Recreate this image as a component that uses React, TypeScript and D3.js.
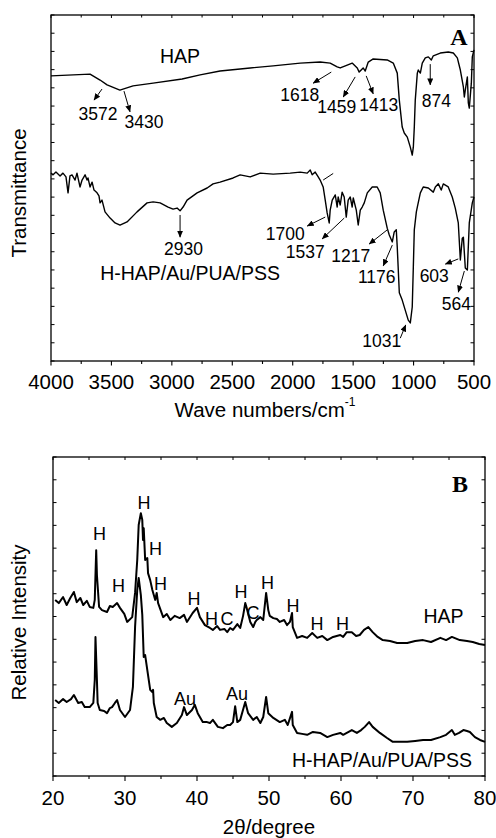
import React from 'react';
import * as d3 from 'd3';

// ---------- FTIR (panel A) : [wavenumber cm-1, transmittance a.u.] ----------
const ftirHAP: [number, number][] = [
  [4000, 82.4], [3677, 82.9], [3594, 81.2], [3536, 79.8], [3430, 78.3], [3321, 79.5],
  [3155, 80.3], [2915, 81.5], [2766, 82.7], [2601, 83.8], [2435, 84.4], [2352, 84.7],
  [2162, 85.3], [1938, 86.1], [1773, 86.4], [1690, 86.1], [1632, 85.0], [1607, 84.7],
  [1549, 85.5], [1508, 86.1], [1466, 84.7], [1450, 83.5], [1417, 84.7], [1400, 83.8],
  [1375, 86.4], [1334, 87.3], [1218, 87.0], [1168, 86.1], [1135, 83.2], [1118, 75.4],
  [1094, 67.6], [1077, 65.9], [1052, 64.7], [1027, 61.8], [1011, 59.5], [1002, 61.8],
  [994, 67.6], [986, 75.4], [969, 83.2], [961, 84.1], [944, 83.2], [928, 86.1],
  [903, 87.6], [878, 87.9], [853, 87.0], [837, 88.2], [779, 89.0], [713, 89.3],
  [671, 89.0], [638, 87.6], [613, 84.1], [588, 79.2], [580, 76.3], [572, 78.3],
  [555, 82.1], [547, 74.6], [539, 73.1], [522, 80.3], [514, 87.9], [500, 89.9],
];

const ftirComposite: [number, number][] = [
  [4000, 54.3], [3983, 53.8], [3959, 54.6], [3925, 53.5], [3901, 54.3], [3876, 53.2],
  [3859, 48.6], [3843, 53.5], [3826, 53.8], [3801, 52.3], [3785, 54.3], [3760, 50.3],
  [3743, 52.3], [3718, 53.8], [3702, 52.3], [3694, 52.9], [3677, 50.3], [3660, 51.7],
  [3644, 49.4], [3619, 48.6], [3603, 47.7], [3594, 45.7], [3578, 46.5], [3553, 43.1],
  [3511, 41.3], [3470, 39.9], [3429, 39.3], [3371, 40.2], [3288, 43.1], [3205, 45.7],
  [3155, 46.0], [3097, 45.7], [3031, 44.5], [2990, 43.9], [2957, 44.2], [2932, 43.4],
  [2907, 44.5], [2874, 46.5], [2791, 48.6], [2708, 50.0], [2659, 51.2], [2601, 51.7],
  [2493, 52.9], [2435, 53.8], [2352, 53.2], [2269, 54.3], [2162, 54.0], [2021, 54.3],
  [1938, 54.6], [1880, 54.3], [1855, 55.2], [1839, 53.8], [1814, 54.6], [1789, 53.2],
  [1773, 52.3], [1748, 50.3], [1731, 46.5], [1715, 42.8], [1698, 39.9], [1690, 43.6],
  [1673, 46.5], [1648, 48.0], [1632, 44.5], [1624, 47.4], [1607, 45.1], [1591, 48.8],
  [1574, 47.4], [1557, 41.6], [1541, 46.5], [1524, 47.4], [1508, 44.5], [1499, 47.1],
  [1474, 43.6], [1458, 39.3], [1441, 43.6], [1425, 44.5], [1408, 45.7], [1383, 48.6],
  [1342, 50.3], [1301, 50.3], [1276, 48.6], [1251, 43.6], [1218, 38.4], [1201, 36.4],
  [1176, 34.4], [1160, 37.3], [1143, 37.9], [1135, 32.9], [1118, 19.7], [1094, 17.6],
  [1069, 14.7], [1044, 11.8], [1027, 11.0], [1011, 15.6], [1002, 27.2], [994, 37.9],
  [977, 43.1], [969, 44.5], [944, 48.6], [920, 50.3], [878, 50.0], [837, 48.8],
  [820, 50.3], [795, 51.2], [771, 49.4], [754, 51.2], [713, 50.3], [680, 47.4],
  [655, 44.2], [630, 39.9], [613, 29.2], [597, 35.5], [588, 35.8], [572, 26.9],
  [555, 26.3], [539, 39.9], [514, 45.7], [500, 47.4],
];

// ---------- XRD (panel B) : [2theta, relative intensity] ----------
const xrdHAP: [number, number][] = [
  [20.3, 55.2], [20.8, 54.2], [21.4, 56.1], [21.9, 53.6], [22.4, 55.8], [22.9, 57.7],
  [23.3, 54.5], [23.8, 55.8], [24.2, 53.6], [24.7, 54.9], [25.1, 53.0], [25.6, 52.7],
  [25.8, 55.2], [26.0, 70.8], [26.1, 63.0], [26.4, 53.0], [26.8, 52.0], [27.5, 51.4],
  [27.9, 53.3], [28.3, 53.0], [28.9, 54.2], [29.3, 52.7], [29.9, 50.8], [30.3, 48.3],
  [31.0, 49.8], [31.4, 57.4], [31.7, 67.7], [31.9, 78.7], [32.2, 82.4], [32.4, 80.3],
  [32.5, 74.0], [32.6, 77.7], [32.8, 67.7], [33.1, 68.3], [33.2, 63.6], [33.5, 61.4],
  [33.8, 58.3], [34.2, 55.2], [34.4, 57.4], [34.6, 54.2], [35.3, 49.8], [35.8, 50.8],
  [36.3, 48.9], [36.9, 50.2], [37.6, 49.5], [38.2, 50.5], [38.6, 48.3], [39.4, 51.1],
  [40.0, 52.7], [40.4, 49.8], [41.1, 47.3], [41.8, 46.4], [42.2, 45.8], [42.8, 47.0],
  [43.2, 45.8], [43.8, 46.1], [44.2, 45.1], [44.6, 46.4], [45.0, 45.8], [45.6, 47.6],
  [46.0, 46.4], [46.4, 50.2], [46.7, 54.2], [46.9, 52.7], [47.4, 48.3], [47.8, 46.7],
  [48.1, 48.3], [48.3, 48.9], [48.8, 49.8], [49.2, 48.9], [49.6, 57.4], [49.9, 52.0],
  [50.1, 50.2], [50.6, 49.5], [51.1, 49.2], [51.5, 48.3], [52.1, 48.9], [52.5, 47.3],
  [52.9, 48.3], [53.2, 51.1], [53.3, 46.7], [53.9, 43.3], [54.6, 43.9], [55.3, 43.3],
  [56.0, 44.8], [56.7, 43.3], [57.4, 43.9], [58.1, 42.6], [58.9, 43.6], [59.9, 44.2],
  [60.3, 43.6], [60.8, 45.1], [61.5, 45.1], [62.1, 43.9], [62.6, 44.2], [63.2, 45.8],
  [63.8, 46.7], [64.4, 45.1], [65.1, 43.6], [65.8, 42.6], [66.8, 42.3], [67.8, 41.7],
  [69.2, 41.7], [70.3, 42.3], [71.4, 42.6], [72.5, 42.0], [73.8, 43.3], [74.6, 42.6],
  [75.4, 43.6], [76.5, 42.6], [77.5, 42.3], [78.3, 42.0], [79.2, 41.4], [80.0, 41.1],
];

const xrdComposite: [number, number][] = [
  [20.3, 23.8], [20.8, 22.9], [21.4, 24.1], [21.9, 23.2], [22.5, 24.1], [22.9, 25.4],
  [23.5, 22.9], [24.0, 23.2], [24.4, 21.6], [25.1, 21.6], [25.6, 22.9], [25.8, 30.1],
  [25.9, 43.6], [26.1, 30.1], [26.2, 22.9], [26.5, 20.7], [27.1, 20.4], [27.5, 19.7],
  [27.9, 21.3], [28.2, 21.6], [28.6, 22.9], [28.9, 23.8], [29.3, 20.7], [30.0, 18.5],
  [30.7, 20.7], [31.1, 27.9], [31.4, 46.7], [31.7, 58.3], [31.9, 62.1], [32.2, 56.7],
  [32.4, 50.5], [32.6, 37.3], [32.8, 37.9], [33.1, 33.2], [33.5, 27.0], [33.8, 26.3],
  [33.9, 27.0], [34.0, 22.9], [34.4, 18.5], [34.9, 17.6], [35.4, 18.2], [35.8, 16.6],
  [36.5, 15.4], [37.2, 16.6], [37.9, 19.1], [38.2, 21.6], [38.6, 19.1], [39.3, 20.7],
  [39.7, 22.3], [40.1, 19.7], [40.8, 16.9], [41.4, 16.9], [41.8, 16.6], [42.2, 17.6],
  [42.9, 15.4], [43.6, 15.0], [44.2, 16.0], [44.6, 16.0], [45.0, 16.9], [45.3, 21.9],
  [45.6, 16.9], [46.0, 17.6], [46.7, 23.2], [47.1, 19.7], [47.8, 17.6], [48.3, 18.5],
  [48.8, 16.6], [49.2, 18.5], [49.6, 24.8], [49.9, 19.7], [50.6, 18.2], [51.5, 16.9],
  [52.2, 17.6], [52.6, 16.0], [53.2, 20.1], [53.3, 16.0], [53.9, 13.5], [54.6, 13.2],
  [55.3, 12.9], [56.1, 13.8], [57.1, 13.5], [58.1, 12.2], [58.9, 12.9], [59.9, 13.5],
  [60.3, 12.9], [61.5, 14.4], [62.2, 13.5], [62.8, 14.4], [63.3, 15.4], [63.9, 16.9],
  [64.4, 15.4], [65.4, 13.5], [66.4, 11.9], [67.2, 10.7], [68.2, 10.7], [69.2, 10.7],
  [70.3, 11.0], [71.4, 11.3], [72.5, 11.3], [73.8, 12.2], [74.6, 12.9], [75.4, 14.4],
  [75.8, 12.9], [76.4, 13.5], [77.0, 14.4], [77.5, 14.1], [77.9, 13.8], [78.6, 12.2],
  [79.3, 11.3], [80.0, 10.7],
];

// ---------- tick labels ----------
const ftirTickLabels = ['4000', '3500', '3000', '2500', '2000', '1500', '1000', '500'];
const xrdTickLabels = ['20', '30', '40', '50', '60', '70', '80'];

// ---------- annotations (data units) ----------
// [text, x, y, anchor]
const ftirTexts: [string, number, number, string][] = [
  ['HAP', 2932, 86.1, 'middle'], ['3572', 3611, 69.7, 'middle'], ['3430', 3230, 67.3, 'middle'],
  ['1618', 1942, 75.1, 'middle'], ['1459', 1636, 71.7, 'middle'], ['1413', 1288, 72.3, 'middle'],
  ['874', 812, 73.4, 'middle'], ['2930', 2903, 30.6, 'middle'],
  ['H-HAP/Au/PUA/PSS', 2849, 23.4, 'middle'], ['1700', 2062, 35.0, 'middle'],
  ['1537', 1897, 29.8, 'middle'], ['1217', 1520, 28.6, 'middle'], ['1176', 1305, 22.5, 'middle'],
  ['603', 829, 22.8, 'middle'], ['564', 646, 14.7, 'middle'], ['1031', 1263, 4.0, 'middle'],
];
// [x1, y1, x2(tip), y2(tip)]
const ftirArrows: [number, number, number, number][] = [
  [3578, 78.6, 3644, 75.4], [3396, 78.0, 3346, 72.0], [1681, 83.5, 1831, 80.3],
  [1483, 82.1, 1582, 76.3], [1392, 82.4, 1334, 77.2], [862, 85.8, 862, 79.8],
  [2932, 42.2, 2932, 35.8], [1731, 41.6, 1880, 39.0], [1574, 41.3, 1756, 35.3],
  [1218, 37.9, 1367, 33.8], [1176, 33.5, 1251, 27.5], [630, 29.5, 737, 28.0],
  [580, 26.0, 630, 19.9], [1110, 6.6, 1065, 10.4],
];
const ftirLines: [number, number, number, number][] = [[1748, 52.3, 1665, 54.2]];

const xrdTexts: [string, number, number, string][] = [
  ['H', 26.46, 74.0, 'middle'], ['H', 32.64, 83.7, 'middle'], ['H', 34.24, 69.3, 'middle'],
  ['H', 29.1, 57.7, 'middle'], ['H', 34.93, 58.3, 'middle'], ['H', 39.58, 53.6, 'middle'],
  ['H', 42.0, 47.3, 'middle'], ['C', 44.17, 47.3, 'middle'], ['H', 46.1, 55.8, 'middle'],
  ['C', 47.78, 49.2, 'middle'], ['H', 49.79, 58.6, 'middle'], ['H', 53.33, 51.4, 'middle'],
  ['H', 56.67, 45.8, 'middle'], ['H', 60.21, 45.8, 'middle'], ['HAP', 74.24, 48.0, 'middle'],
  ['Au', 38.33, 22.3, 'middle'], ['Au', 45.56, 23.8, 'middle'],
  ['H-HAP/Au/PUA/PSS', 65.69, 2.8, 'middle'],
];

const FONT = "'Liberation Sans', Arial, Helvetica, sans-serif";
const SERIF = "'Liberation Serif', 'Times New Roman', serif";

export default function App() {
  const xF = d3.scaleLinear().domain([4000, 500]).range([51, 474]);
  const yF = d3.scaleLinear().domain([0, 100]).range([361, 15]);
  const xX = d3.scaleLinear().domain([20, 80]).range([53, 485]);
  const yX = d3.scaleLinear().domain([0, 100]).range([776, 457]);

  const lineF = d3.line<[number, number]>().x(d => xF(d[0])).y(d => yF(d[1]));
  const lineX = d3.line<[number, number]>().x(d => xX(d[0])).y(d => yX(d[1]));

  const fTicks = d3.range(500, 4001, 250);
  const xTicks = d3.range(20, 81, 5);
  const fYTicks = d3.range(0, 20).map(i => (i * 100) / 19);
  const xYTicks = d3.range(0, 15).map(i => (i * 100) / 14);

  const [fx0, fx1] = xF.range();
  const [fy0, fy1] = yF.range();
  const [bx0, bx1] = xX.range();
  const [by0, by1] = yX.range();

  const sw = 1.4;

  return (
    <svg width={496} height={838} style={{ position: 'absolute', left: 0, top: 0, background: '#fff' }}
      fontFamily={FONT}>
      <defs>
        <marker id="ah" markerUnits="userSpaceOnUse" markerWidth={7} markerHeight={6}
          refX={6.5} refY={3} orient="auto">
          <path d="M0,0 L7,3 L0,6 Z" fill="#000" />
        </marker>
      </defs>

      {/* ===== Panel A ===== */}
      <rect x={fx0} y={fy1} width={fx1 - fx0} height={fy0 - fy1} fill="none" stroke="#000" strokeWidth={1.3} />
      {fTicks.map(t => {
        const major = t % 500 === 0;
        return (
          <g key={'ft' + t}>
            <line x1={xF(t)} x2={xF(t)} y1={fy0} y2={fy0 + (major ? 4.5 : 3)} stroke="#000" strokeWidth={1.1} />
            <line x1={xF(t)} x2={xF(t)} y1={fy1} y2={fy1 + (major ? 3 : 2.5)} stroke="#000" strokeWidth={1} />
          </g>
        );
      })}
      {fTicks.filter(t => t % 500 === 0).map((t, i) => (
        <text key={'fl' + t} x={xF(t)} y={389} fontSize={20.5} textAnchor="middle">
          {ftirTickLabels[ftirTickLabels.length - 1 - i]}
        </text>
      ))}
      {fYTicks.map((t, i) => (
        <g key={'fy' + i}>
          <line x1={fx0} x2={fx0 + 3.5} y1={yF(t)} y2={yF(t)} stroke="#000" strokeWidth={1} />
          <line x1={fx1} x2={fx1 - 3.5} y1={yF(t)} y2={yF(t)} stroke="#000" strokeWidth={1} />
        </g>
      ))}
      <path d={lineF(ftirHAP) || ''} fill="none" stroke="#000" strokeWidth={sw} strokeLinejoin="round" />
      <path d={lineF(ftirComposite) || ''} fill="none" stroke="#000" strokeWidth={sw} strokeLinejoin="round" />
      {ftirArrows.map((a, i) => (
        <line key={'fa' + i} x1={xF(a[0])} y1={yF(a[1])} x2={xF(a[2])} y2={yF(a[3])}
          stroke="#000" strokeWidth={1} markerEnd="url(#ah)" />
      ))}
      {ftirLines.map((a, i) => (
        <line key={'fln' + i} x1={xF(a[0])} y1={yF(a[1])} x2={xF(a[2])} y2={yF(a[3])}
          stroke="#000" strokeWidth={1} />
      ))}
      {ftirTexts.map((t, i) => (
        <text key={'ftx' + i} x={xF(t[1])} y={yF(t[2])} textAnchor={t[3] as any}
          fontSize={t[0].length > 4 || t[0] === 'HAP' ? 19.5 : 17.5}>{t[0]}</text>
      ))}
      <text x={459} y={45} fontFamily={SERIF} fontWeight="bold" fontSize={24} textAnchor="middle">A</text>
      <text x={265} y={417} fontSize={20.5} textAnchor="middle">
        Wave numbers/cm<tspan dy={-11} fontSize={12}>-1</tspan>
      </text>
      <text transform={`translate(26,${(fy0 + fy1) / 2 + 5}) rotate(-90)`} fontSize={20.5} textAnchor="middle">
        Transmittance
      </text>

      {/* ===== Panel B ===== */}
      <rect x={bx0} y={by1} width={bx1 - bx0} height={by0 - by1} fill="none" stroke="#000" strokeWidth={1.3} />
      {xTicks.map(t => {
        const major = t % 10 === 0;
        return (
          <g key={'xt' + t}>
            <line x1={xX(t)} x2={xX(t)} y1={by0} y2={by0 + (major ? 5 : 3)} stroke="#000" strokeWidth={1.1} />
            <line x1={xX(t)} x2={xX(t)} y1={by1} y2={by1 + 3} stroke="#000" strokeWidth={1} />
          </g>
        );
      })}
      {xTicks.filter(t => t % 10 === 0).map((t, i) => (
        <text key={'xl' + t} x={xX(t)} y={805} fontSize={20.5} textAnchor="middle">{xrdTickLabels[i]}</text>
      ))}
      {xYTicks.map((t, i) => (
        <g key={'xy' + i}>
          <line x1={bx0} x2={bx0 + 3.5} y1={yX(t)} y2={yX(t)} stroke="#000" strokeWidth={1} />
          <line x1={bx1} x2={bx1 - 3.5} y1={yX(t)} y2={yX(t)} stroke="#000" strokeWidth={1} />
        </g>
      ))}
      <path d={lineX(xrdHAP) || ''} fill="none" stroke="#000" strokeWidth={2} strokeLinejoin="round" />
      <path d={lineX(xrdComposite) || ''} fill="none" stroke="#000" strokeWidth={2} strokeLinejoin="round" />
      {xrdTexts.map((t, i) => (
        <text key={'xtx' + i} x={xX(t[1])} y={yX(t[2])} textAnchor={t[3] as any}
          fontSize={t[0].length > 2 ? 19.5 : 18}>{t[0]}</text>
      ))}
      <text x={460} y={492} fontFamily={SERIF} fontWeight="bold" fontSize={24} textAnchor="middle">B</text>
      <text x={269} y={834} fontSize={20.5} textAnchor="middle">2θ/degree</text>
      <text transform={`translate(26,${(by0 + by1) / 2 + 6}) rotate(-90)`} fontSize={20.5} textAnchor="middle">
        Relative Intensity
      </text>
    </svg>
  );
}
